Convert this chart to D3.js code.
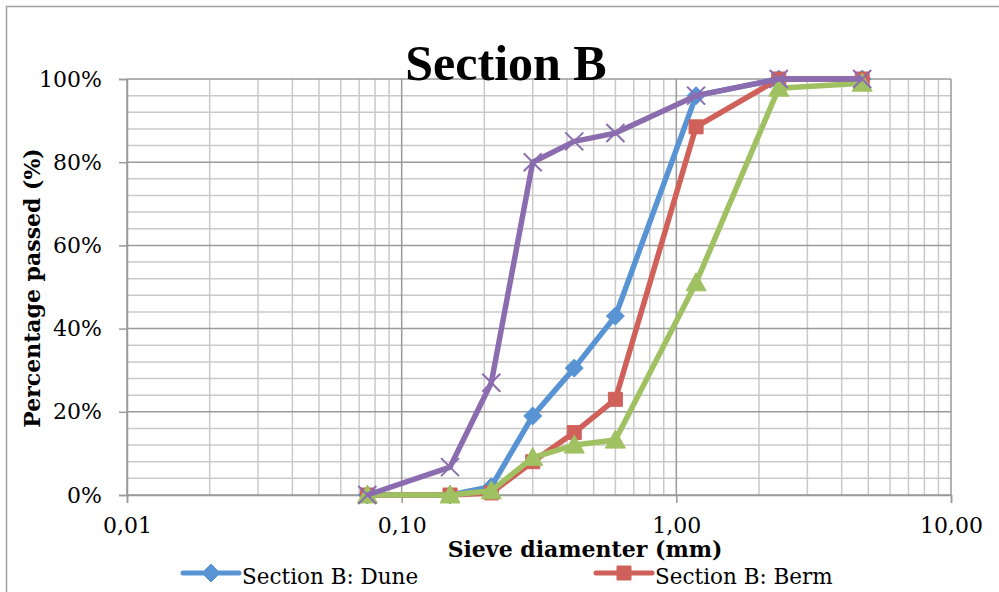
<!DOCTYPE html>
<html>
<head>
<meta charset="utf-8">
<script src="https://cdn.jsdelivr.net/npm/d3@7/dist/d3.min.js"></script>
<style>
  html, body { margin: 0; padding: 0; background: #fff; }
  svg { display: block; }
  text { font-family: "DejaVu Serif", "Liberation Serif", serif; fill: #000; }
  text.chart-title { font-family: "Liberation Serif", serif; }
</style>
</head>
<body>
<svg id="chart" width="999" height="592"></svg>
<script>
// Sieve sizes (mm) and cumulative percentage passing for each sample
const sieves = [0.075, 0.15, 0.212, 0.3, 0.425, 0.6, 1.18, 2.36, 4.75];
const duneValues = [0, 0, 2, 19, 30.5, 43, 96, 100, 100];
const bermValues = [0, 0, 0.5, 8, 15, 23, 88.5, 100, 100];
const thirdValues = [0, 0, 1, 9, 12, 13.2, 51, 97.8, 99];
const fourthValues = [0, 6.7, 27, 80, 85, 87, 96, 100, 100];
const seriesNames = ["Section B: Dune", "Section B: Berm", "Section B: Beach", "Section B: Foreshore"];
const xTickValues = [0.01, 0.1, 1, 10];
const xTickLabels = ["0,01", "0,10", "1,00", "10,00"];
const yTickValues = [0, 20, 40, 60, 80, 100];

const series = [
  { name: seriesNames[0], values: duneValues, color: "#5893D4", marker: "diamond" },
  { name: seriesNames[1], values: bermValues, color: "#D0605A", marker: "square" },
  { name: seriesNames[2], values: thirdValues, color: "#A0C161", marker: "triangle" },
  { name: seriesNames[3], values: fourthValues, color: "#8B6DAF", marker: "cross" }
];

const svg = d3.select("#chart");

// chart frame
svg.append("rect").attr("x", 6.5).attr("y", 6.5).attr("width", 1010).attr("height", 620)
  .attr("fill", "none").attr("stroke", "#a0a0a0").attr("stroke-width", 1.5);

const x = d3.scaleLog().domain([0.01, 10]).range([127, 951]);
const y = d3.scaleLinear().domain([0, 100]).range([495, 79]);

const grid = svg.append("g");

// vertical minor grid (2..9 of each decade)
const minorX = [];
[0.01, 0.1, 1].forEach(d => { for (let k = 2; k <= 9; k++) minorX.push(d * k); });
grid.selectAll(".vminor").data(minorX).join("line")
  .attr("x1", d => x(d)).attr("x2", d => x(d))
  .attr("y1", y(0)).attr("y2", y(100))
  .attr("stroke", "#c9c9c9").attr("stroke-width", 1.5);

// horizontal minor grid every 4%
const minorY = d3.range(4, 100, 4).filter(v => v % 20 !== 0);
grid.selectAll(".hminor").data(minorY).join("line")
  .attr("x1", x(0.01)).attr("x2", x(10))
  .attr("y1", d => y(d)).attr("y2", d => y(d))
  .attr("stroke", "#c9c9c9").attr("stroke-width", 1.5);

// major grid
grid.selectAll(".vmajor").data(xTickValues).join("line")
  .attr("x1", d => x(d)).attr("x2", d => x(d))
  .attr("y1", y(0)).attr("y2", y(100))
  .attr("stroke", "#9a9a9a").attr("stroke-width", 1.5);
grid.selectAll(".hmajor").data(yTickValues).join("line")
  .attr("x1", x(0.01)).attr("x2", x(10))
  .attr("y1", d => y(d)).attr("y2", d => y(d))
  .attr("stroke", "#9a9a9a").attr("stroke-width", 1.5);

// axes
const xAxis = d3.axisBottom(x).tickValues(xTickValues)
  .tickFormat((d, i) => xTickLabels[i]).tickSize(8).tickPadding(14);
const gx = svg.append("g").attr("transform", `translate(0,${y(0)})`).call(xAxis);
gx.select(".domain").attr("stroke", "#9a9a9a").attr("stroke-width", 1.5);
gx.selectAll(".tick line").attr("stroke", "#9a9a9a").attr("stroke-width", 1.5);
gx.selectAll(".tick text").attr("font-size", 22).attr("fill", "#000");

const yAxis = d3.axisLeft(y).tickValues(yTickValues)
  .tickFormat(d => d + "%").tickSize(8).tickPadding(17);
const gy = svg.append("g").attr("transform", `translate(${x(0.01)},0)`).call(yAxis);
gy.select(".domain").attr("stroke", "#9a9a9a").attr("stroke-width", 1.5);
gy.selectAll(".tick line").attr("stroke", "#9a9a9a").attr("stroke-width", 1.5);
gy.selectAll(".tick text").attr("font-size", 22).attr("fill", "#000");

// marker shapes
function markerPath(type) {
  switch (type) {
    case "diamond": return "M0,-9L9,0L0,9L-9,0Z";
    case "square": return "M-7,-7H7V7H-7Z";
    case "triangle": return "M0,-10L10,8H-10Z";
    default: return "M-9,-9L9,9M-9,9L9,-9";
  }
}

const line = d3.line().x(d => x(d[0])).y(d => y(d[1]));

series.forEach(s => {
  const pts = sieves.map((v, i) => [v, s.values[i]]);
  const g = svg.append("g");
  g.append("path").datum(pts).attr("d", line)
    .attr("fill", "none").attr("stroke", s.color).attr("stroke-width", 5.5)
    .attr("stroke-linejoin", "round");
  g.selectAll("path.m").data(pts).join("path").attr("class", "m")
    .attr("transform", d => `translate(${x(d[0])},${y(d[1])})`)
    .attr("d", markerPath(s.marker))
    .attr("fill", s.marker === "cross" ? "none" : s.color)
    .attr("stroke", s.color).attr("stroke-width", s.marker === "cross" ? 2 : 1);
});

// title and axis titles
svg.append("text").attr("class", "chart-title").attr("x", 506).attr("y", 80)
  .attr("text-anchor", "middle")
  .attr("font-size", 50).attr("font-weight", "bold").text("Section B");
svg.append("text").attr("x", 585).attr("y", 557).attr("text-anchor", "middle")
  .attr("font-size", 22).attr("font-weight", "bold").text("Sieve diamenter (mm)");
svg.append("text").attr("transform", "translate(40,288) rotate(-90)")
  .attr("text-anchor", "middle").attr("font-size", 22).attr("font-weight", "bold")
  .text("Percentage passed (%)");

// legend (first row)
const legendPos = [{ x: 183, y: 573 }, { x: 596, y: 573 }];
series.slice(0, 2).forEach((s, i) => {
  const p = legendPos[i];
  const g = svg.append("g").attr("transform", `translate(${p.x},${p.y})`);
  g.append("line").attr("x1", 0).attr("x2", 56).attr("y1", 0).attr("y2", 0)
    .attr("stroke", s.color).attr("stroke-width", 5).attr("stroke-linecap", "round");
  g.append("path").attr("transform", "translate(28,0)").attr("d", markerPath(s.marker))
    .attr("fill", s.color).attr("stroke", s.color);
  g.append("text").attr("x", 59).attr("y", 11).attr("font-size", 21.5).text(s.name);
});
</script>
</body>
</html>
